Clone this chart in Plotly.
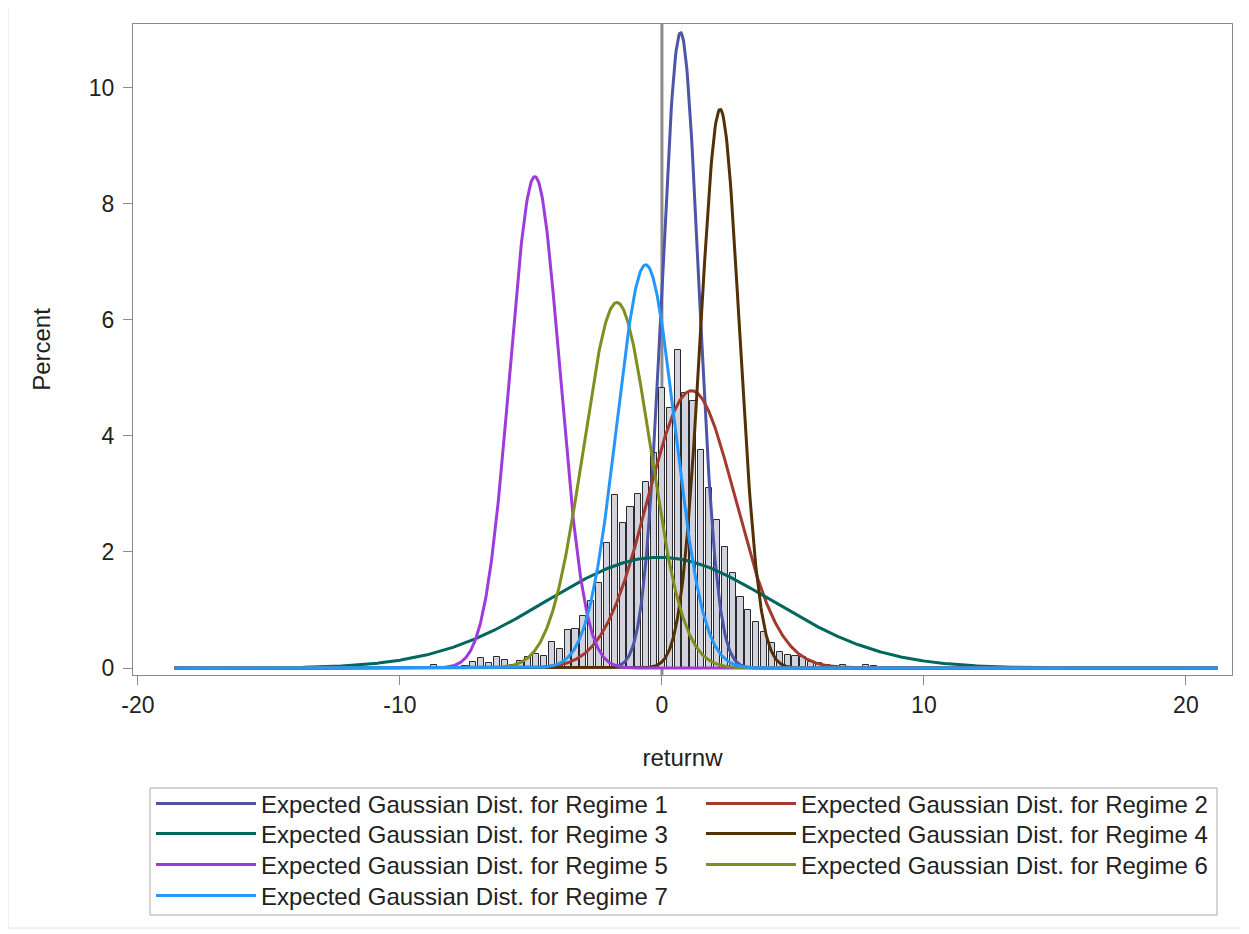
import numpy as np
import plotly.graph_objects as go

# Histogram of returnw (bin centres and percent heights)
bin_centers = [-8.7, -8.4, -8.1, -7.8, -7.5, -7.2, -6.9, -6.6, -6.3, -6.0, -5.7, -5.4, -5.1, -4.8,
               -4.5, -4.2, -3.9, -3.6, -3.3, -3.0, -2.7, -2.4, -2.1, -1.8, -1.5, -1.2, -0.9, -0.6,
               -0.3, 0.0, 0.3, 0.6, 0.9, 1.2, 1.5, 1.8, 2.1, 2.4, 2.7, 3.0, 3.3, 3.6, 3.9, 4.2,
               4.5, 4.8, 5.1, 5.4, 5.7, 6.0, 6.3, 6.6, 6.9, 7.2, 7.5, 7.8, 8.1]
bin_percent = [0.06, 0.0, 0.0, 0.0, 0.03, 0.10, 0.17, 0.08, 0.19, 0.14, 0.05, 0.12, 0.19, 0.24,
               0.20, 0.45, 0.33, 0.65, 0.68, 0.90, 1.15, 1.47, 2.15, 2.98, 2.50, 2.78, 3.00, 3.20,
               3.70, 4.82, 4.48, 5.48, 4.74, 4.60, 3.76, 3.10, 2.55, 2.09, 1.64, 1.22, 1.00, 0.80,
               0.62, 0.43, 0.28, 0.22, 0.20, 0.19, 0.10, 0.08, 0.05, 0.03, 0.06, 0.0, 0.0, 0.05, 0.03]
bin_width = 0.3

# Regime Gaussian curves: mean, std dev, peak height (percent)
regimes = ["Expected Gaussian Dist. for Regime 1", "Expected Gaussian Dist. for Regime 2",
           "Expected Gaussian Dist. for Regime 3", "Expected Gaussian Dist. for Regime 4",
           "Expected Gaussian Dist. for Regime 5", "Expected Gaussian Dist. for Regime 6",
           "Expected Gaussian Dist. for Regime 7"]
regime_mean = [0.71, 1.13, -0.1, 2.22, -4.85, -1.72, -0.62]
regime_sd = [0.70, 1.68, 4.30, 0.74, 0.95, 1.27, 1.10]
regime_peak = [10.95, 4.78, 1.91, 9.63, 8.47, 6.30, 6.95]
regime_colors = ["#4c55a6", "#a23a2e", "#01665e", "#543005", "#9d3cdb", "#7f8e1f", "#2597fa"]
x_min, x_max = -18.6, 21.2

x_ticks = [-20, -10, 0, 10, 20]
x_ticktext = ["-20", "-10", "0", "10", "20"]
y_ticks = [0, 2, 4, 6, 8, 10]

# The page body adds an 8px margin, so the figure is drawn 8px smaller and
# every target pixel position is shifted by -8.
OFF = 8
W, H = 1249 - OFF, 934 - OFF
PL, PR, PT, PB = 133 - OFF, 1232 - OFF, 24 - OFF, 675 - OFF


def px(xp):
    return (xp - OFF - PL) / (PR - PL)


def py(yp):
    return (PB - (yp - OFF)) / (PB - PT)


FONT = "Arial, Liberation Sans, sans-serif"

fig = go.Figure()
fig.add_trace(go.Bar(x=bin_centers, y=bin_percent, width=bin_width * 0.78, showlegend=False,
                     marker=dict(color="#d2d3de", line=dict(color="#2a2a2a", width=1))))

# legend slots in reference pixels: (swatch start x, row centre y, itemwidth)
legend_slots = [(158, 804, 100), (708, 804, 90), (158, 834, 100), (708, 834, 90),
                (158, 865, 100), (708, 865, 90), (158, 896, 100)]

xs = np.linspace(x_min, x_max, 1500)
legend_layouts = {}
for i, (name, m, s, p, c) in enumerate(zip(regimes, regime_mean, regime_sd, regime_peak, regime_colors)):
    ys = p * np.exp(-0.5 * ((xs - m) / s) ** 2)
    lname = "legend" if i == 0 else f"legend{i + 1}"
    fig.add_trace(go.Scatter(x=xs, y=ys, mode="lines", name=name, legend=lname,
                             line=dict(color=c, width=3)))
    sx, sy, iw = legend_slots[i]
    legend_layouts[lname] = dict(x=px(sx - 7), xanchor="left", y=py(sy), yanchor="middle",
                                 bgcolor="rgba(0,0,0,0)", borderwidth=0, itemwidth=iw,
                                 font=dict(family=FONT, size=24, color="#222222"))

fig.add_shape(type="line", x0=0, x1=0, y0=0, y1=1, xref="x", yref="paper",
              line=dict(color="#8c8c8c", width=3), layer="below")
# legend border
fig.add_shape(type="rect", xref="paper", yref="paper",
              x0=px(150), x1=px(1217), y0=py(915), y1=py(788),
              line=dict(color="#aaaaaa", width=1), fillcolor="rgba(0,0,0,0)", layer="below")
# outer light frame
fig.add_shape(type="rect", xref="paper", yref="paper",
              x0=px(8), x1=px(1242), y0=py(928), y1=py(6),
              line=dict(color="#e2e2e2", width=1), layer="below")

fig.update_layout(
    width=W, height=H,
    margin=dict(l=PL, r=W - PR, t=PT, b=H - PB),
    paper_bgcolor="white", plot_bgcolor="white",
    font=dict(family=FONT, size=24, color="#222222"),
    bargap=0,
    xaxis=dict(range=[-20.19, 21.76], tickvals=x_ticks, ticktext=x_ticktext,
               showgrid=False, zeroline=False,
               showline=True, linecolor="#8a8a8a", mirror=True, ticks="outside",
               ticklen=9, tickcolor="#8a8a8a", ticklabelstandoff=0,
               tickfont=dict(size=23),
               title=dict(text="returnw", font=dict(size=24), standoff=32)),
    yaxis=dict(range=[-0.12, 11.1], tickvals=y_ticks, showgrid=False, zeroline=False,
               showline=True, linecolor="#8a8a8a", mirror=True, ticks="outside",
               ticklen=9, tickcolor="#8a8a8a", ticklabelstandoff=4,
               tickfont=dict(size=23),
               title=dict(text="Percent", font=dict(size=24), standoff=31)),
    **legend_layouts,
)

fig.write_html("out.html")
